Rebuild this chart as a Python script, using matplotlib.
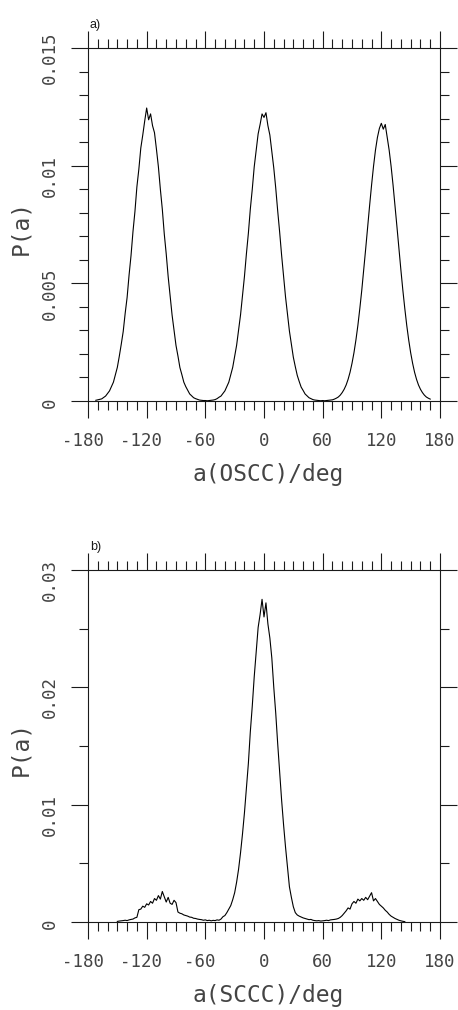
import numpy as np
import matplotlib
matplotlib.use("Agg")
import matplotlib.pyplot as plt
from matplotlib.ticker import MultipleLocator

# a) distribution of the OSCC angle, 2 deg bins, P in units of 1e-3
ang_oscc = np.arange(-172, 171, 2)
p_oscc = np.array([
    0.03, 0.05, 0.07, 0.09, 0.15, 0.21, 0.32, 0.43, 0.62, 0.80,
    1.12, 1.43, 1.90, 2.41, 2.95, 3.72, 4.40, 5.35, 6.18, 7.20,
    8.05, 9.10, 9.85, 10.75, 11.30, 11.90, 12.45, 11.95, 12.20, 11.70,
    11.40, 10.70, 9.95, 9.00, 8.15, 7.10, 6.25, 5.28, 4.48, 3.65,
    3.02, 2.36, 1.91, 1.42, 1.12, 0.80, 0.61, 0.45, 0.30, 0.22,
    0.14, 0.10, 0.07, 0.04, 0.03, 0.02, 0.02, 0.01, 0.02, 0.03,
    0.04, 0.06, 0.10, 0.16, 0.21, 0.32, 0.43, 0.61, 0.80, 1.12,
    1.43, 1.90, 2.37, 3.01, 3.66, 4.47, 5.29, 6.25, 7.12, 8.15,
    9.00, 9.95, 10.65, 11.35, 11.75, 12.20, 12.05, 12.25, 11.70, 11.30,
    10.60, 9.90, 9.05, 8.08, 7.18, 6.20, 5.33, 4.43, 3.70, 2.97,
    2.40, 1.86, 1.46, 1.09, 0.83, 0.59, 0.45, 0.30, 0.22, 0.14,
    0.10, 0.06, 0.04, 0.03, 0.02, 0.01, 0.02, 0.01, 0.02, 0.03,
    0.04, 0.05, 0.08, 0.12, 0.17, 0.25, 0.36, 0.50, 0.68, 0.92,
    1.22, 1.60, 2.05, 2.59, 3.21, 3.93, 4.71, 5.57, 6.47, 7.39,
    8.30, 9.17, 9.97, 10.66, 11.20, 11.58, 11.80, 11.55, 11.75, 11.20,
    10.66, 9.97, 9.17, 8.30, 7.39, 6.47, 5.57, 4.71, 3.93, 3.21,
    2.59, 2.05, 1.60, 1.22, 0.92, 0.68, 0.50, 0.36, 0.25, 0.17,
    0.12, 0.08,
]) * 1e-3

# b) distribution of the SCCC angle
ang_sccc = np.arange(-150, 145, 2)
p_sccc = np.array([
    0.05, 0.08, 0.10, 0.12, 0.15, 0.12, 0.18, 0.22, 0.25, 0.35,
    0.40, 1.05, 1.10, 1.35, 1.25, 1.55, 1.45, 1.75, 1.60, 2.00,
    1.85, 2.25, 1.95, 2.60, 2.15, 1.70, 2.10, 1.60, 1.50, 1.85,
    1.65, 0.85, 0.75, 0.70, 0.60, 0.55, 0.50, 0.42, 0.40, 0.32,
    0.30, 0.25, 0.22, 0.20, 0.15, 0.18, 0.12, 0.15, 0.10, 0.14,
    0.12, 0.18, 0.15, 0.25, 0.45, 0.55, 0.80, 1.10, 1.40, 1.90,
    2.50, 3.40, 4.50, 5.90, 7.50, 9.30, 11.40, 13.50, 16.20, 18.40,
    20.90, 23.00, 25.10, 26.20, 27.50, 26.00, 27.20, 25.40, 24.20, 22.50,
    20.00, 17.80, 15.20, 12.80, 10.40, 8.30, 6.40, 4.70, 3.00, 2.10,
    1.30, 0.80, 0.60, 0.50, 0.42, 0.35, 0.30, 0.25, 0.20, 0.22,
    0.15, 0.12, 0.10, 0.12, 0.08, 0.10, 0.12, 0.15, 0.12, 0.18,
    0.20, 0.22, 0.25, 0.30, 0.40, 0.55, 0.75, 0.95, 1.20, 1.10,
    1.55, 1.75, 1.60, 1.95, 1.80, 2.00, 1.85, 2.10, 1.90, 2.20,
    2.50, 1.80, 2.00, 1.75, 1.50, 1.35, 1.20, 1.00, 0.85, 0.65,
    0.50, 0.40, 0.30, 0.22, 0.15, 0.10, 0.06, 0.03,
]) * 1e-3

x_ticks = [-180, -120, -60, 0, 60, 120, 180]
x_labels = ["-180", "-120", "-60", "0", "60", "120", "180"]
y_ticks_a = [0, 0.005, 0.01, 0.015]
y_labels_a = ["0", "0.005", "0.01", "0.015"]
y_ticks_b = [0, 0.01, 0.02, 0.03]
y_labels_b = ["0", "0.01", "0.02", "0.03"]

mono = "DejaVu Sans Mono"
ink = "#1a1a1a"
txt = "#444444"
fs = 12.5

fig = plt.figure(figsize=(4.58, 10.10), dpi=100)
W, H = 458, 1010


def panel(top, bottom, ang, p, ymax, ymajor, yminor, yticks, ylabels, xlabel, tag):
    ax = fig.add_axes([88 / W, 1 - bottom / H, 352 / W, (bottom - top) / H])
    ax.plot(ang, p, color="black", lw=0.8)
    ax.set_xlim(-180, 180)
    ax.set_ylim(0, ymax)
    ax.xaxis.set_major_locator(MultipleLocator(60))
    ax.xaxis.set_minor_locator(MultipleLocator(10))
    ax.yaxis.set_major_locator(MultipleLocator(ymajor))
    ax.yaxis.set_minor_locator(MultipleLocator(yminor))
    ax.tick_params(which="both", direction="out", top=True, right=True,
                   labelbottom=False, labelleft=False, color=ink, width=0.8)
    ax.tick_params(which="major", length=12.5)
    ax.tick_params(which="minor", length=6.5)
    for s in ax.spines.values():
        s.set_linewidth(0.8)
        s.set_color(ink)

    # tick labels: digits centred on the tick, minus sign hangs left
    for v, s in zip(x_ticks, x_labels):
        dx = -0.301 * fs if s.startswith("-") else 0
        ax.annotate(s, xy=(v, 0), xycoords=("data", "axes fraction"),
                    xytext=(dx, -28.8), textcoords="offset points",
                    ha="center", va="center", fontsize=fs, family=mono,
                    color=txt, annotation_clip=False)
    for v, s in zip(yticks, ylabels):
        dy = -7.2 if len(s) > 1 else -1.5
        ax.annotate(s, xy=(0, v), xycoords=("axes fraction", "data"),
                    xytext=(-27.4, dy), textcoords="offset points",
                    ha="center", va="center", rotation=90, fontsize=fs,
                    family=mono, color=txt, annotation_clip=False)

    mid = (top + bottom) / 2
    fig.text(21 / W, 1 - (mid + 3) / H, "P(a)", rotation=90, ha="center",
             va="center", fontsize=16.5, family=mono, color=txt)
    fig.text(268 / W, 1 - (bottom + 80) / H, xlabel, ha="center",
             va="baseline", fontsize=16.5, family=mono, color=txt)
    fig.text(90 / W, 1 - (top - 20) / H, tag, ha="left", va="baseline",
             fontsize=9, family="Liberation Sans", color=ink)
    return ax


panel(48, 401, ang_oscc, p_oscc, 0.015, 0.005, 0.001,
      y_ticks_a, y_labels_a, "a(OSCC)/deg", "a)")
panel(570, 922, ang_sccc, p_sccc, 0.03, 0.01, 0.005,
      y_ticks_b, y_labels_b, "a(SCCC)/deg", "b)")

fig.savefig("out.png", dpi=100)
